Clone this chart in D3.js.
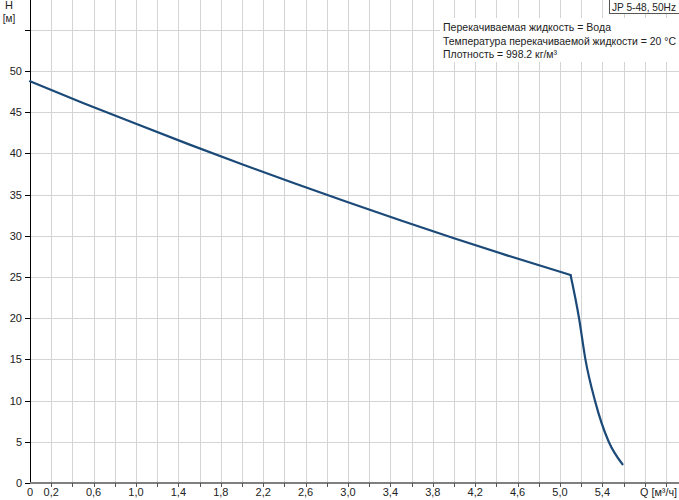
<!DOCTYPE html>
<html><head><meta charset="utf-8">
<script src="https://cdn.jsdelivr.net/npm/d3@7"></script>
<style>
body{margin:0;background:#fff;}
text{font-family:"Liberation Sans",Arial,sans-serif;}
</style></head>
<body>
<svg id="c" width="679" height="500"></svg>
<script>
// Data
const curveQ = [0, 0.5, 1.0, 1.5, 2.0, 2.5, 3.0, 3.5, 4.0, 4.5, 5.10];
const curveH = [48.75, 46.13, 43.59, 41.10, 38.69, 36.34, 34.07, 31.85, 29.71, 27.63, 25.24];
const dropQ = [5.10, 5.18, 5.24, 5.33, 5.46, 5.59];
const dropH = [25.24, 20.0, 15.0, 10.0, 5.0, 2.27];
const xTickLabels = [0, 0.2, 0.6, 1.0, 1.4, 1.8, 2.2, 2.6, 3.0, 3.4, 3.8, 4.2, 4.6, 5.0, 5.4];
const xGrid = d3.range(0, 31).map(i => +(i * 0.2).toFixed(1));
const yTickLabels = [0, 5, 10, 15, 20, 25, 30, 35, 40, 45, 50];
const yGrid = [5, 10, 15, 20, 25, 30, 35, 40, 45, 50, 55];
const infoLines = ["Перекачиваемая жидкость = Вода", "Температура перекачиваемой жидкости = 20 °C", "Плотность = 998.2 кг/м³"];
const infoWidths = [168, 233, 114];
const titleText = "JP 5-48, 50Hz";

const svg = d3.select("#c");
const x = d3.scaleLinear().domain([0, 6.123]).range([30, 679]);
const y = d3.scaleLinear().domain([0, 58.62]).range([483, 0]);
const fmt = v => v === 0 ? "0" : d3.format(".1f")(v).replace(".", ",");

// grid
svg.append("g").selectAll("line").data(xGrid.filter(d => d > 0 && x(d) < 679)).join("line")
  .attr("x1", d => Math.round(x(d)) + 0.5).attr("x2", d => Math.round(x(d)) + 0.5)
  .attr("y1", 0).attr("y2", 483).attr("stroke", "#d4d4d4").attr("stroke-width", 1);
svg.append("g").selectAll("line").data(yGrid).join("line")
  .attr("x1", 30).attr("x2", 679)
  .attr("y1", d => Math.round(y(d)) + 0.5).attr("y2", d => Math.round(y(d)) + 0.5)
  .attr("stroke", "#d4d4d4").attr("stroke-width", 1);

// info box background
svg.append("rect").attr("x", 440).attr("y", 18).attr("width", 239).attr("height", 44).attr("fill", "#fff");
infoLines.forEach((t, i) => {
  svg.append("text").attr("x", 443).attr("y", 31 + i * 13.5).attr("font-size", 10.5).attr("fill", "#222")
    .attr("textLength", infoWidths[i]).attr("lengthAdjust", "spacingAndGlyphs").text(t);
});

// title box
svg.append("rect").attr("x", 609.5).attr("y", -1).attr("width", 72).attr("height", 14.5)
  .attr("fill", "#fff").attr("stroke", "#555");
svg.append("text").attr("x", 612).attr("y", 10.5).attr("font-size", 10.5).attr("fill", "#222")
  .attr("textLength", 64).attr("lengthAdjust", "spacingAndGlyphs").text(titleText);

// axes lines
svg.append("line").attr("x1", 30.5).attr("x2", 30.5).attr("y1", 0).attr("y2", 483).attr("stroke", "#000");
// y ticks
svg.append("g").selectAll("line").data(yGrid.concat([0])).join("line")
  .attr("x1", 25).attr("x2", 30).attr("y1", d => Math.round(y(d)) + 0.5).attr("y2", d => Math.round(y(d)) + 0.5)
  .attr("stroke", "#000");
svg.append("g").selectAll("text").data(yTickLabels).join("text")
  .attr("x", 22).attr("y", d => y(d) + 4).attr("text-anchor", "end").attr("font-size", 11).attr("fill", "#222")
  .text(d => d);
// x axis
svg.append("line").attr("x1", 30).attr("x2", 679).attr("y1", 483).attr("y2", 483).attr("stroke", "#808080").attr("stroke-width", 2);
svg.append("g").selectAll("line").data(xGrid.filter(d => d > 0 && x(d) < 679)).join("line")
  .attr("x1", d => Math.round(x(d)) + 0.5).attr("x2", d => Math.round(x(d)) + 0.5)
  .attr("y1", 483).attr("y2", 487).attr("stroke", "#555");
svg.append("g").selectAll("text").data(xTickLabels).join("text")
  .attr("x", d => x(d)).attr("y", 496).attr("text-anchor", "middle").attr("font-size", 11).attr("fill", "#222")
  .text(fmt);
svg.append("text").attr("x", 640).attr("y", 496).attr("font-size", 10.5).attr("fill", "#222")
  .attr("textLength", 37).attr("lengthAdjust", "spacingAndGlyphs").text("Q [м³/ч]");
// axis titles
svg.append("text").attr("x", 9).attr("y", 9).attr("text-anchor", "middle").attr("font-size", 11).attr("fill", "#222").text("H");
svg.append("text").attr("x", 9).attr("y", 22).attr("text-anchor", "middle").attr("font-size", 10).attr("fill", "#222").text("[м]");

// curve
const line = d3.line().x(d => x(d[0])).y(d => y(d[1])).curve(d3.curveMonotoneX);
const pts1 = curveQ.map((q, i) => [q, curveH[i]]);
const pts2 = dropQ.map((q, i) => [q, dropH[i]]);
[pts1, pts2].forEach(p => {
  svg.append("path").attr("d", line(p)).attr("fill", "none").attr("stroke", "#1b4a78")
    .attr("stroke-width", 2.2).attr("stroke-linecap", "round").attr("stroke-linejoin", "round");
});
</script>
</body></html>
